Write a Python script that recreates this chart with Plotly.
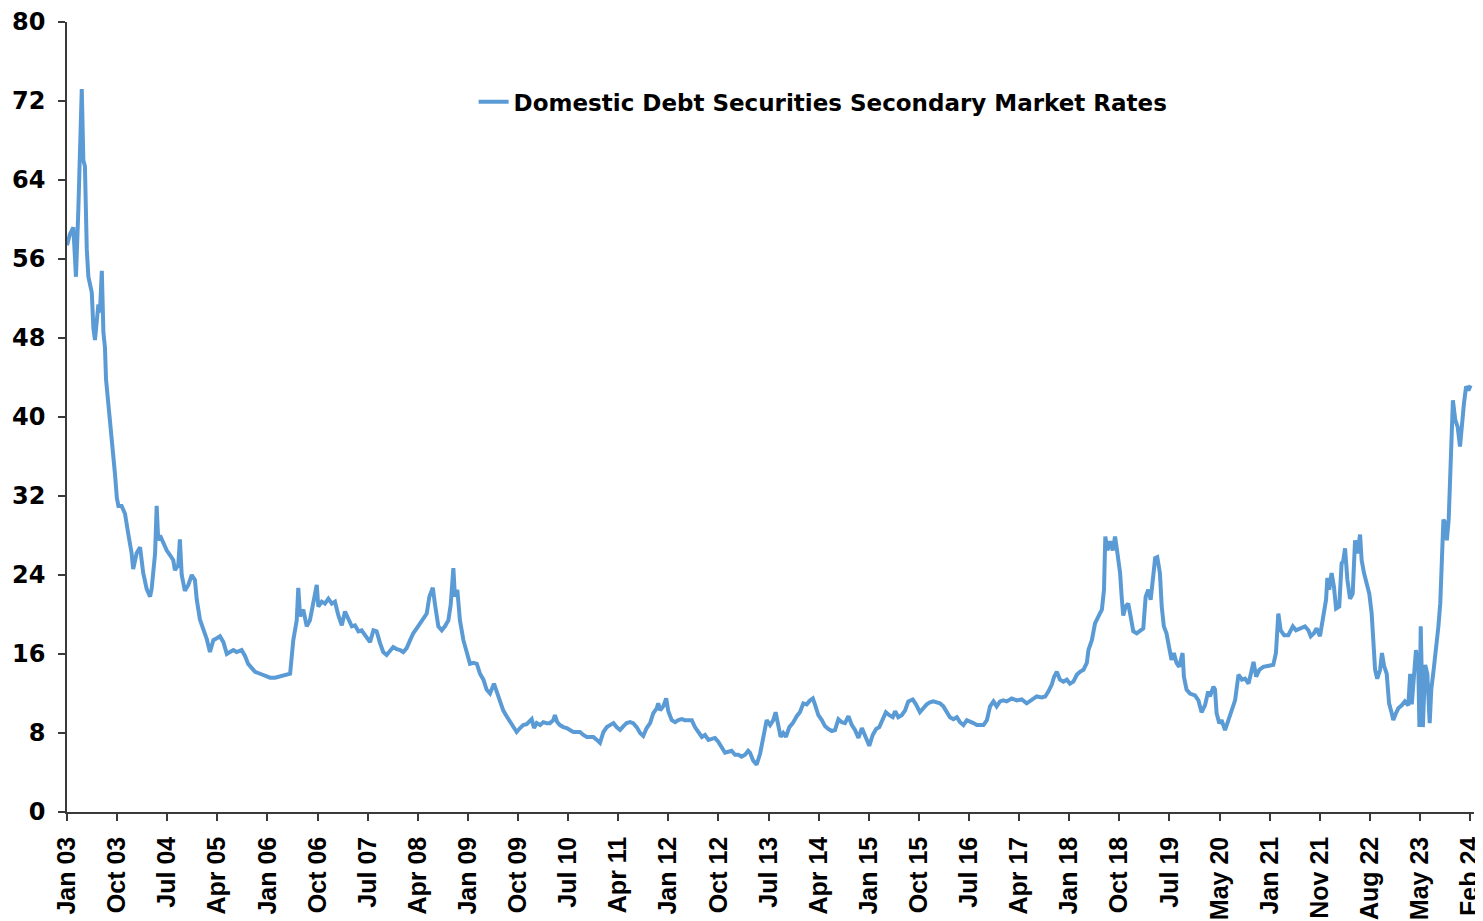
import plotly.graph_objects as go

# Beobachtungsindex (Handelstage seit Jan 03) und Rendite in %
day_index = [
    0, 11, 24, 34, 43, 49, 56, 62, 68, 75, 81, 94, 100, 106, 113, 119, 125, 132, 138, 144,
    148, 157, 163, 170, 176, 182, 189, 195, 207, 220, 232, 245, 251, 264, 277, 289, 302, 315, 321, 334,
    340, 346, 353, 365, 378, 391, 403, 409, 422, 428, 435, 447, 460, 473, 485, 492, 504, 517, 530, 542,
    555, 568, 580, 593, 606, 618, 631, 643, 662, 675, 687, 700, 713, 732, 751, 770, 789, 808, 826, 846,
    858, 871, 877, 884, 896, 909, 921, 934, 947, 953, 966, 978, 991, 1004, 1016, 1029, 1042, 1054, 1067, 1080,
    1092, 1105, 1117, 1130, 1149, 1162, 1174, 1187, 1199, 1212, 1225, 1237, 1250, 1263, 1275, 1288, 1301, 1313, 1326, 1339,
    1351, 1364, 1374, 1387, 1395, 1408, 1421, 1433, 1446, 1455, 1465, 1471, 1480, 1490, 1503, 1516, 1528, 1541, 1554, 1566,
    1579, 1591, 1604, 1619, 1629, 1642, 1654, 1667, 1680, 1692, 1705, 1718, 1730, 1743, 1756, 1762, 1771, 1781, 1794, 1806,
    1819, 1831, 1844, 1850, 1859, 1869, 1882, 1895, 1907, 1920, 1933, 1945, 1958, 1971, 1983, 1996, 2009, 2021, 2034, 2047,
    2059, 2072, 2084, 2097, 2110, 2122, 2135, 2147, 2160, 2173, 2185, 2198, 2211, 2223, 2236, 2242, 2249, 2261, 2272, 2280,
    2293, 2306, 2318, 2331, 2343, 2356, 2369, 2381, 2394, 2407, 2419, 2432, 2445, 2457, 2470, 2483, 2495, 2508, 2520, 2533,
    2546, 2558, 2571, 2583, 2590, 2602, 2615, 2628, 2638, 2647, 2653, 2666, 2678, 2687, 2697, 2706, 2716, 2726, 2739, 2752,
    2767, 2779, 2792, 2805, 2817, 2828, 2836, 2849, 2862, 2874, 2887, 2900, 2912, 2925, 2938, 2950, 2963, 2976, 2988, 3001,
    3014, 3026, 3042, 3055, 3068, 3080, 3093, 3105, 3118, 3131, 3140, 3152, 3165, 3178, 3190, 3207, 3219, 3234, 3247, 3260,
    3272, 3285, 3298, 3310, 3323, 3336, 3348, 3361, 3374, 3386, 3399, 3412, 3424, 3437, 3450, 3462, 3475, 3488, 3500, 3513,
    3525, 3538, 3550, 3563, 3582, 3601, 3620, 3639, 3658, 3677, 3696, 3709, 3721, 3734, 3743, 3753, 3765, 3778, 3791, 3803,
    3816, 3829, 3841, 3854, 3867, 3873, 3886, 3898, 3911, 3924, 3932, 3937, 3945, 3955, 3965, 3974, 3983, 3993, 3999, 4005,
    4014, 4024, 4033, 4043, 4056, 4069, 4081, 4090, 4100, 4109, 4117, 4126, 4134, 4144, 4151, 4159, 4169, 4179, 4188, 4197,
    4207, 4217, 4230, 4235, 4245, 4258, 4277, 4290, 4302, 4315, 4327, 4334, 4347, 4353, 4359, 4369, 4378, 4391, 4404, 4417,
    4429, 4442, 4455, 4467, 4480, 4489, 4499, 4509, 4521, 4536, 4555, 4574, 4584, 4593, 4602, 4615, 4631, 4648, 4660, 4675,
    4694, 4707, 4716, 4728, 4738, 4751, 4764, 4774, 4779, 4786, 4795, 4804, 4812, 4824, 4833, 4839, 4846, 4855, 4865, 4875,
    4884, 4893, 4903, 4909, 4918, 4928, 4938, 4947, 4953, 4960, 4968, 4979, 4986, 4994, 5004, 5013, 5023, 5029, 5039, 5048,
    5061, 5073, 5086, 5093, 5099, 5108, 5115, 5124, 5128, 5133, 5141, 5150, 5158, 5167, 5173, 5182, 5192, 5200, 5207, 5213,
    5219, 5226, 5232, 5239, 5245, 5252, 5255, 5264, 5273, 5282, 5288, 5297, 5305, 5314, 5322,
]
rate = [
    57.4, 58.5, 59.2, 54.2, 61.0, 65.8, 73.2, 66.0, 65.4, 57.0, 54.2, 52.6, 49.0, 47.8, 49.4, 51.4, 50.6, 54.8, 48.6, 47.0,
    43.8, 41.4, 39.4, 38.2, 35.8, 34.2, 31.8, 31.0, 31.0, 30.2, 28.2, 26.2, 24.6, 26.2, 26.8, 24.2, 22.6, 21.8, 22.6, 26.2,
    31.0, 27.5, 28.0, 27.2, 26.5, 26.0, 25.5, 24.5, 25.0, 27.6, 24.0, 22.4, 23.0, 24.0, 23.5, 21.5, 19.5, 18.5, 17.5, 16.2,
    17.4, 17.6, 17.8, 17.2, 16.0, 16.2, 16.4, 16.2, 16.4, 15.8, 15.0, 14.6, 14.2, 14.0, 13.8, 13.6, 13.6, 13.7, 13.8, 14.0,
    17.4, 19.4, 22.7, 19.8, 20.5, 18.8, 19.4, 21.3, 23.0, 20.8, 21.3, 21.1, 21.6, 21.1, 21.3, 19.9, 18.9, 20.3, 19.6, 18.8,
    18.9, 18.3, 18.4, 17.9, 17.2, 18.4, 18.3, 17.1, 16.2, 15.9, 16.4, 16.7, 16.5, 16.4, 16.2, 16.6, 17.4, 18.1, 18.6, 19.1,
    19.6, 20.1, 21.8, 22.7, 21.1, 18.8, 18.4, 18.8, 19.4, 21.0, 24.7, 21.8, 22.5, 19.4, 17.4, 16.1, 15.0, 15.1, 15.0, 14.0,
    13.4, 12.4, 12.0, 13.0, 12.2, 11.3, 10.3, 9.7, 9.2, 8.6, 8.1, 8.5, 8.8, 8.9, 9.3, 9.4, 8.5, 9.0, 8.8, 9.1,
    9.0, 9.0, 9.3, 9.8, 9.1, 8.8, 8.6, 8.5, 8.3, 8.1, 8.1, 8.1, 7.8, 7.6, 7.6, 7.6, 7.3, 7.0, 8.1, 8.6,
    8.8, 9.0, 8.6, 8.3, 8.7, 9.0, 9.1, 9.0, 8.6, 8.0, 7.7, 8.5, 9.0, 10.0, 10.5, 11.0, 10.3, 10.7, 11.5, 10.2,
    9.3, 9.1, 9.3, 9.4, 9.3, 9.3, 9.3, 8.6, 8.1, 7.6, 7.8, 7.3, 7.4, 7.5, 7.1, 6.6, 6.0, 6.1, 6.2, 5.8,
    5.8, 5.6, 5.8, 6.2, 6.0, 5.2, 4.8, 5.9, 7.5, 8.8, 9.3, 8.8, 9.3, 10.1, 9.0, 7.6, 8.0, 7.6, 8.6, 9.0,
    9.7, 10.1, 11.0, 10.9, 11.3, 11.5, 10.9, 9.8, 9.3, 8.7, 8.4, 8.2, 8.3, 9.4, 9.1, 9.0, 9.7, 8.8, 8.3, 7.5,
    8.5, 7.6, 6.7, 7.8, 8.4, 8.6, 9.3, 10.1, 9.8, 9.6, 10.2, 9.6, 9.8, 10.3, 11.2, 11.4, 10.9, 10.1, 10.5, 10.9,
    11.1, 11.2, 11.1, 11.0, 10.7, 10.2, 9.6, 9.4, 9.6, 9.1, 8.8, 9.3, 9.1, 9.0, 8.8, 8.8, 8.8, 9.3, 10.7, 11.2,
    10.7, 11.2, 11.3, 11.2, 11.5, 11.3, 11.4, 11.0, 11.3, 11.7, 11.6, 11.7, 12.2, 12.9, 13.7, 14.2, 13.4, 13.2, 13.4, 13.0,
    13.2, 13.9, 14.2, 14.4, 15.1, 16.4, 17.4, 19.1, 19.8, 20.5, 22.5, 27.9, 26.5, 27.4, 26.5, 27.9, 26.2, 24.2, 21.8, 19.9,
    20.8, 21.1, 19.8, 18.3, 18.1, 18.3, 18.6, 21.8, 22.5, 21.5, 23.6, 25.7, 25.8, 24.2, 20.8, 18.8, 18.1, 16.7, 15.4, 16.1,
    15.1, 14.7, 16.1, 13.7, 12.4, 12.0, 11.8, 11.3, 10.1, 10.8, 12.2, 11.7, 12.7, 12.4, 10.0, 9.0, 9.3, 8.3, 9.3, 10.2,
    11.3, 13.9, 13.4, 13.5, 13.0, 14.0, 15.2, 13.7, 14.4, 14.7, 14.8, 14.9, 16.1, 20.1, 18.4, 17.9, 17.9, 18.8, 18.4, 18.6,
    18.8, 18.4, 17.8, 18.1, 18.6, 17.8, 20.1, 21.5, 23.7, 22.5, 24.2, 22.8, 20.6, 20.8, 25.2, 25.4, 26.7, 23.5, 21.6, 22.1,
    27.5, 26.2, 28.1, 25.5, 24.2, 23.1, 22.1, 20.1, 16.7, 14.4, 13.5, 14.4, 16.1, 14.8, 14.0, 11.0, 10.0, 9.3, 10.0, 10.5,
    10.8, 11.2, 10.8, 14.0, 10.9, 14.7, 16.4, 14.4, 8.6, 18.8, 8.6, 14.9, 14.0, 9.0, 12.4, 14.4, 16.7, 18.8, 21.1, 26.9,
    29.6, 29.3, 27.5, 29.6, 35.0, 39.7, 41.7, 39.7, 39.0, 37.0, 39.3, 41.4, 43.1, 42.7, 43.2,
]

tick_pos = [i * 190 for i in range(29)]
tick_labels = [
    "Jan 03", "Oct 03", "Jul 04", "Apr 05", "Jan 06", "Oct 06", "Jul 07", "Apr 08", "Jan 09",
    "Oct 09", "Jul 10", "Apr 11", "Jan 12", "Oct 12", "Jul 13", "Apr 14", "Jan 15", "Oct 15",
    "Jul 16", "Apr 17", "Jan 18", "Oct 18", "Jul 19", "May 20", "Jan 21", "Nov 21", "Aug 22",
    "May 23", "Feb 24",
]
y_ticks = list(range(0, 81, 8))

SERIES_NAME = "Domestic Debt Securities Secondary Market Rates"
LINE_COLOR = "#5B9BD5"
AXIS_COLOR = "#3a3a3a"
# Arial-ähnlich für die gedrehten Datumslabels, breitere Schrift für Y-Achse/Legende
FONT_X = "Liberation Sans, Arial, sans-serif"
FONT_WIDE = "DejaVu Sans, Verdana, sans-serif"

fig = go.Figure()
fig.add_trace(go.Scatter(
    x=day_index, y=rate, mode="lines", name=SERIES_NAME,
    line=dict(color=LINE_COLOR, width=4),
))

# Die Seite hat 8px Body-Rand, daher Figur etwas kleiner und Ränder entsprechend versetzt
fig.update_layout(
    width=1475, height=913,
    paper_bgcolor="white", plot_bgcolor="white",
    margin=dict(l=59, r=9, t=14, b=109),
    font=dict(family=FONT_WIDE, color="black", size=24, weight="bold"),
    showlegend=True,
    legend=dict(
        x=0.289, y=0.899, xanchor="left", yanchor="middle",
        bgcolor="rgba(0,0,0,0)",
        font=dict(family=FONT_WIDE, size=23, weight="bold", color="black"),
    ),
)
fig.update_xaxes(
    range=[0, 5335], tickmode="array", tickvals=tick_pos, ticktext=tick_labels,
    tickangle=-90, tickfont=dict(family=FONT_X, size=25, weight="bold", color="black"),
    showline=True, linecolor=AXIS_COLOR, linewidth=1.5,
    ticks="outside", ticklen=7, tickcolor=AXIS_COLOR, tickwidth=1.5,
    showgrid=False, zeroline=False, automargin=False, ticklabelstandoff=6,
    ticklabeloverflow="allow",
)
fig.update_yaxes(
    range=[0, 80], tickmode="array", tickvals=y_ticks,
    tickfont=dict(family=FONT_WIDE, size=24, weight="bold", color="black"),
    showline=True, linecolor=AXIS_COLOR, linewidth=1.5,
    ticks="outside", ticklen=7, tickcolor=AXIS_COLOR, tickwidth=1.5,
    showgrid=False, zeroline=False, automargin=False, ticklabelstandoff=8,
)

fig.write_html("out.html")
